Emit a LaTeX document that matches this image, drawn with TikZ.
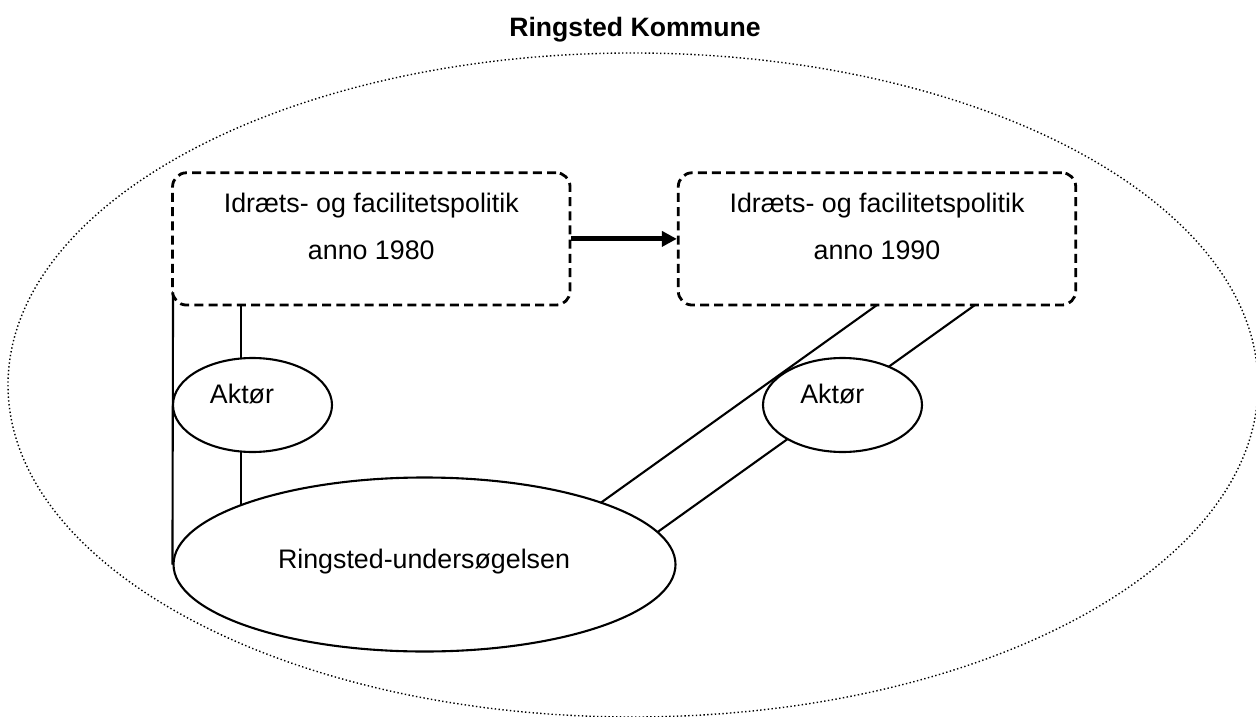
\documentclass[tikz,border=0pt]{standalone}
\usepackage{fontspec}
\setmainfont{Liberation Sans}
\usetikzlibrary{shapes.geometric,arrows.meta}
\pgfdeclarelayer{background}
\pgfsetlayers{background,main}
\begin{document}
\begin{tikzpicture}[x=1pt,y=-1pt,
  txt/.style={font=\fontsize{26.8}{32}\selectfont, inner sep=0pt, anchor=base},
  titletxt/.style={font=\bfseries\fontsize{26.6}{32}\selectfont, inner sep=0pt, anchor=base},
  policy/.style={draw, rectangle, rounded corners=14pt, dash pattern=on 9pt off 5.2pt, line width=2.8pt, minimum width=397.5pt, minimum height=132.3pt, inner sep=0pt, fill=white},
  actor/.style={draw, ellipse, line width=2.1pt, minimum width=159pt, minimum height=94pt, inner sep=0pt, fill=white},
  study/.style={draw, ellipse, line width=2.1pt, minimum width=502pt, minimum height=174pt, inner sep=0pt, fill=white},
  region/.style={draw, ellipse, line width=1.4pt, dash pattern=on 1.4pt off 2.4pt, minimum width=1250pt, minimum height=664pt, inner sep=0pt},
  link/.style={line width=2.1pt},
  flow/.style={line width=5pt, -{Triangle[length=15pt,width=15pt]}}
]
\useasboundingbox (0,0) rectangle (1256,717);
\node[region] (kom) at (633,385) {};
\node[titletxt] (title) at (635,37) {Ringsted Kommune};

\node[policy] (p80) at (371.3,238.9) {};
\node[txt] (p80a) at (371.3,212.7) {Idræts- og facilitetspolitik};
\node[txt] (p80b) at (371.3,259.3) {anno 1980};

\node[policy] (p90) at (877,238.9) {};
\node[txt] (p90a) at (877,212.7) {Idræts- og facilitetspolitik};
\node[txt] (p90b) at (877,259.3) {anno 1990};

\node[actor] (a1) at (252.5,405) {};
\node[txt] (a1t) at (242,403.3) {Aktør};
\node[actor] (a2) at (842.5,405) {};
\node[txt] (a2t) at (832.3,403.3) {Aktør};

\node[study] (ru) at (424.5,564.5) {};
\node[txt] (rut) at (424,568.3) {Ringsted-undersøgelsen};

\coordinate (l0) at (173.05,291);
\coordinate (l1) at (241,305);
\coordinate (l1e) at (241,520);
\coordinate (q1) at (877,305);
\coordinate (q1e) at (590,510.5);
\coordinate (q2) at (975,305);
\coordinate (q2e) at (640,544.6);

\begin{pgfonlayer}{background}
\draw[link] (l0) -- (ru.west);
\draw[link] (l1) -- (l1e);
\draw[link] (q1) -- (q1e);
\draw[link] (q2) -- (q2e);
\end{pgfonlayer}
\draw[flow] (p80.east) -- (p90.west);
\end{tikzpicture}
\end{document}
